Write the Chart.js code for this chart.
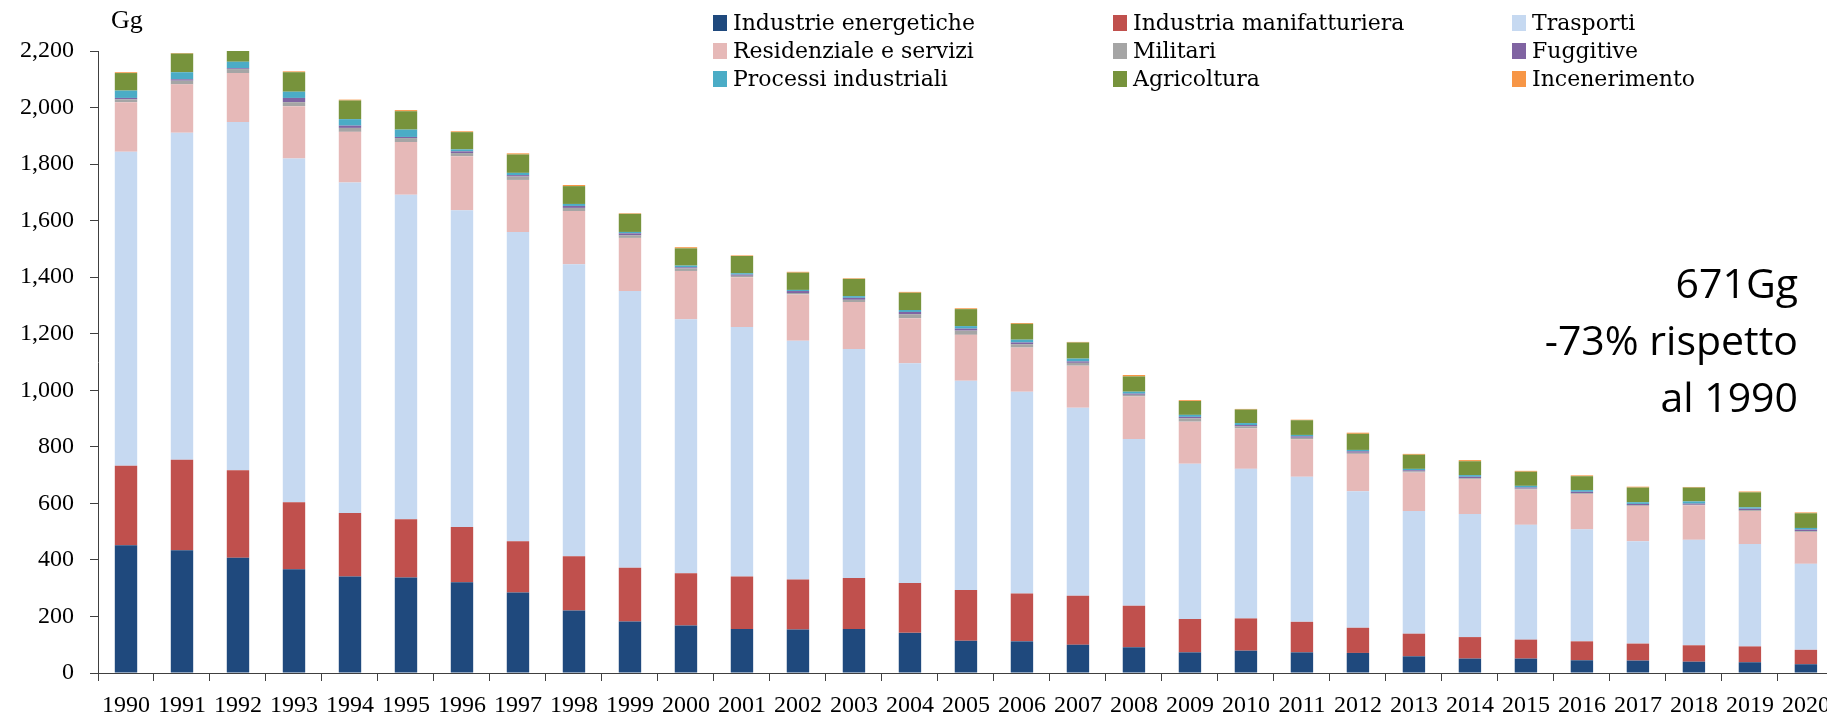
<!DOCTYPE html>
<html>
<head>
<meta charset="utf-8">
<script src="https://cdn.jsdelivr.net/npm/chart.js@4.4.0/dist/chart.umd.min.js"></script>
<style>
  html, body { margin: 0; padding: 0; background: #fff; overflow: hidden; }
  #wrap { width: 1840px; height: 718px; }
</style>
</head>
<body>
<div id="wrap"><canvas id="emiChart" width="1840" height="718"></canvas></div>
<script>
var anni = [];
for (var a = 1990; a <= 2020; a++) anni.push(String(a));

var industrieEnergetiche = [452,434,408,367,341,338,321,285,221,182,168,156,154,156,142,114,112,100,91,73,79,73,71,59,51,51,45,44,40,38,31];
var industriaManifatturiera = [281,320,309,237,225,206,195,181,192,190,185,185,177,180,176,180,169,173,147,118,114,108,89,80,76,67,67,60,58,56,51];
var trasporti = [1111,1157,1232,1216,1169,1148,1121,1094,1033,979,898,883,844,810,778,740,714,665,590,549,529,513,483,434,435,406,396,362,373,362,304];
var residenziale = [175,171,173,185,179,186,191,184,188,188,171,176,164,166,159,162,156,149,150,149,143,133,132,136,124,125,125,125,122,117,113];
var militari = [10,13,14,14,14,14,11,12,11,9,9,5,5,8,14,15,12,10,6,12,7,5,4,4,3,3,3,3,2,3,3];
var fuggitive = [5,5,3,15,8,4,6,5,7,7,4,4,7,7,8,7,6,5,4,5,5,5,5,4,5,4,5,4,4,5,5];
var processi = [26,25,23,22,23,26,7,8,7,5,6,5,4,6,7,9,10,10,7,7,7,5,5,5,6,6,6,6,8,5,6];
var agricoltura = [62,66,38,69,66,65,61,65,63,64,61,61,61,61,61,60,56,57,54,49,48,52,57,50,49,50,49,52,49,53,52];
var incenerimento = [3,2,2,3,3,4,3,4,4,2,4,2,3,2,3,3,3,2,5,3,2,2,4,3,4,3,3,3,2,3,3];

var yTicks = [0,200,400,600,800,1000,1200,1400,1600,1800,2000,2200];

var serie = [
  ["Industrie energetiche", industrieEnergetiche, "#1F497D"],
  ["Industria manifatturiera", industriaManifatturiera, "#C0504D"],
  ["Trasporti", trasporti, "#C6D9F1"],
  ["Residenziale e servizi", residenziale, "#E6B9B8"],
  ["Militari", militari, "#A5A5A5"],
  ["Fuggitive", fuggitive, "#8064A2"],
  ["Processi industriali", processi, "#4BACC6"],
  ["Agricoltura", agricoltura, "#77933C"],
  ["Incenerimento", incenerimento, "#F79646"]
];

var datasets = serie.map(function(s) {
  return {
    label: s[0],
    data: s[1],
    backgroundColor: s[2],
    borderWidth: 0,
    barPercentage: 0.4,
    categoryPercentage: 1.0,
    stack: "tot"
  };
});

// legenda a 3 colonne + testi extra
var extraPlugin = {
  id: "extra",
  afterDraw: function(chart) {
    var ctx = chart.ctx;
    ctx.save();
    var cols = [713, 1113, 1512];
    var rows = [23, 51, 79];
    ctx.font = "22px 'DejaVu Serif'";
    ctx.textBaseline = "middle";
    ctx.textAlign = "left";
    chart.data.datasets.forEach(function(ds, i) {
      var x = cols[i % 3], y = rows[Math.floor(i / 3)];
      ctx.fillStyle = ds.backgroundColor;
      ctx.fillRect(x, y - 8, 14, 16);
      ctx.fillStyle = "#000";
      ctx.fillText(ds.label, x + 20, y + 1);
    });

    ctx.font = "26px 'Liberation Serif'";
    ctx.textBaseline = "alphabetic";
    ctx.fillText("Gg", 111, 28);

    ctx.font = "41px 'Open Sans'";
    ctx.textAlign = "right";
    ctx.fillText("671Gg", 1798, 298);
    ctx.fillText("-73% rispetto", 1798, 355);
    ctx.fillText("al 1990", 1798, 412);
    ctx.restore();
  }
};

new Chart("emiChart", {
  type: "bar",
  data: { labels: anni, datasets: datasets },
  plugins: [extraPlugin],
  options: {
    responsive: false,
    animation: false,
    layout: { padding: { left: 0, top: 51, right: 6, bottom: 0 } },
    plugins: {
      legend: { display: false },
      tooltip: { enabled: false }
    },
    scales: {
      x: {
        stacked: true,
        afterFit: function(s) { s.height = 45; },
        border: { color: "#404040", width: 1 },
        grid: { drawOnChartArea: false, drawTicks: true, tickLength: 8, color: "#404040", offset: true },
        ticks: { color: "#000", font: { family: "'Liberation Serif'", size: 24 }, padding: 10, maxRotation: 0, autoSkip: false }
      },
      y: {
        stacked: true,
        min: 0,
        max: 2200,
        afterFit: function(s) { s.width = 98; },
        afterBuildTicks: function(s) { s.ticks = yTicks.map(function(v) { return { value: v }; }); },
        border: { color: "#404040", width: 1 },
        grid: { drawOnChartArea: false, drawTicks: true, tickLength: 8, color: "#404040" },
        ticks: {
          color: "#000",
          font: { family: "'Liberation Serif'", size: 24 },
          padding: 16,
          callback: function(v) { return v.toLocaleString("en-US"); }
        }
      }
    }
  }
});
</script>
</body>
</html>
